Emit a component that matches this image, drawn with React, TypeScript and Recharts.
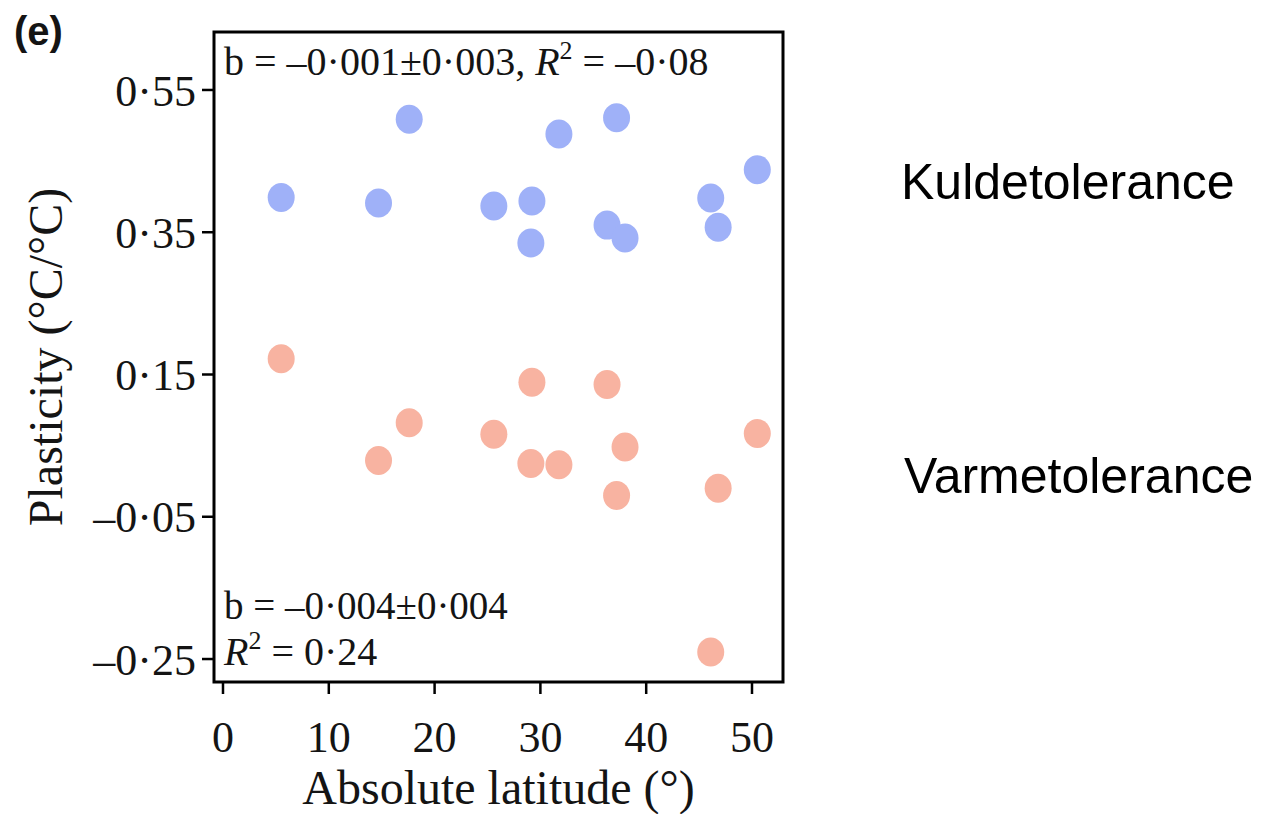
import React from "react";
import { ScatterChart, Scatter, XAxis, YAxis, ReferenceArea, Label } from "recharts";

// Absolute latitude (°) of each population
const latitudes = [5.5, 14.7, 17.6, 25.6, 29.2, 29.1, 31.75, 36.3, 37.2, 38.0, 46.1, 46.8, 50.5];
// Plasticity of cold tolerance (Kuldetolerance), °C/°C
const coldPlasticity = [0.399, 0.391, 0.509, 0.387, 0.394, 0.335, 0.488, 0.360, 0.511, 0.342, 0.398, 0.357, 0.438];
// Plasticity of heat tolerance (Varmetolerance), °C/°C
const heatPlasticity = [0.172, 0.029, 0.082, 0.066, 0.139, 0.025, 0.023, 0.136, -0.020, 0.048, -0.240, -0.010, 0.067];

const xTicks = [0, 10, 20, 30, 40, 50];
const yTicks = [-0.25, -0.05, 0.15, 0.35, 0.55];

const X_MIN = -0.85;
const X_MAX = 52.93;
const Y_MIN = -0.2823;
const Y_MAX = 0.6315;

const coldData = latitudes.map((x, i) => ({ x, y: coldPlasticity[i] }));
const heatData = latitudes.map((x, i) => ({ x, y: heatPlasticity[i] }));

const SERIF = "'Liberation Serif', 'Times New Roman', serif";
const SANS = "'Liberation Sans', Arial, sans-serif";
const TXT = "#141414";

const fmtY = (v: number) => {
  const s = Math.abs(v).toFixed(2).replace(".", "\u00B7");
  return v < 0 ? "\u2013" + s : s;
};

const dot = (color: string) => (p: any) => (
  <ellipse cx={p.cx} cy={p.cy} rx={13.5} ry={14.5} fill={color} />
);

const YTitle = (props: any) => {
  const vb = props.viewBox || { x: 0, y: 0, width: 0, height: 0 };
  const cx = vb.x + 37;
  const cy = vb.y + vb.height / 2;
  return (
    <text
      x={cx}
      y={cy}
      transform={`rotate(-90 ${cx} ${cy})`}
      textAnchor="middle"
      dominantBaseline="central"
      fontFamily={SERIF}
      fontSize={48}
      fill={TXT}
    >
      Plasticity (°C/°C)
    </text>
  );
};

export default function App() {
  return (
    <div style={{ position: "relative", width: 1256, height: 806 }}>
      <ScatterChart
        width={1256}
        height={806}
        margin={{ top: 24, right: 481, bottom: 0, left: 0 }}
      >
        <XAxis
          type="number"
          dataKey="x"
          domain={[X_MIN, X_MAX]}
          ticks={xTicks}
          allowDataOverflow
          axisLine={false}
          tickLine={{ stroke: "#000", strokeWidth: 2.5 }}
          tickSize={12}
          tickMargin={27}
          tick={{ fill: TXT, fontSize: 44, fontFamily: SERIF }}
          height={132}
        >
          <Label
            value="Absolute latitude (°)"
            position="insideBottom"
            offset={10}
            style={{ fontFamily: SERIF, fontSize: 48, fill: TXT }}
          />
        </XAxis>
        <YAxis
          type="number"
          dataKey="y"
          domain={[Y_MIN, Y_MAX]}
          ticks={yTicks}
          allowDataOverflow
          axisLine={false}
          tickLine={{ stroke: "#000", strokeWidth: 2.5 }}
          tickSize={12}
          tickMargin={6}
          tickFormatter={fmtY}
          tick={{ fill: TXT, fontSize: 44, fontFamily: SERIF }}
          width={206}
          label={{ content: YTitle }}
        />
        <ReferenceArea
          x1={X_MIN}
          x2={X_MAX}
          y1={Y_MIN}
          y2={Y_MAX}
          fill="none"
          stroke="#000"
          strokeWidth={3}
          ifOverflow="visible"
        />
        <Scatter data={coldData} fill="#9fb1f8" shape={dot("#9fb1f8")} isAnimationActive={false} />
        <Scatter data={heatData} fill="#f8b3a1" shape={dot("#f8b3a1")} isAnimationActive={false} />
      </ScatterChart>
      <svg
        width={1256}
        height={806}
        style={{ position: "absolute", left: 0, top: 0, pointerEvents: "none" }}
      >
        <text x={6} y={37} fontFamily={SANS} fontWeight="bold" fontSize={40} fill={TXT}>
          (e)
        </text>
        <text x={216} y={67} fontFamily={SERIF} fontSize={40} fill={TXT}>
          b = –0·001±0·003,{" "}
          <tspan fontStyle="italic">R</tspan>
          <tspan dy={-16} fontSize={26}>2</tspan>
          <tspan dy={16}> = –0·08</tspan>
        </text>
        <text x={216} y={611} fontFamily={SERIF} fontSize={39} fill={TXT}>
          b = –0·004±0·004
        </text>
        <text x={216} y={657} fontFamily={SERIF} fontSize={40} fill={TXT}>
          <tspan fontStyle="italic">R</tspan>
          <tspan dy={-16} fontSize={26}>2</tspan>
          <tspan dy={16}> = 0·24</tspan>
        </text>
        <text x={893} y={191} fontFamily={SANS} fontSize={50} fill="#000">
          Kuldetolerance
        </text>
        <text x={896} y={485} fontFamily={SANS} fontSize={50} fill="#000">
          Varmetolerance
        </text>
      </svg>
    </div>
  );
}
